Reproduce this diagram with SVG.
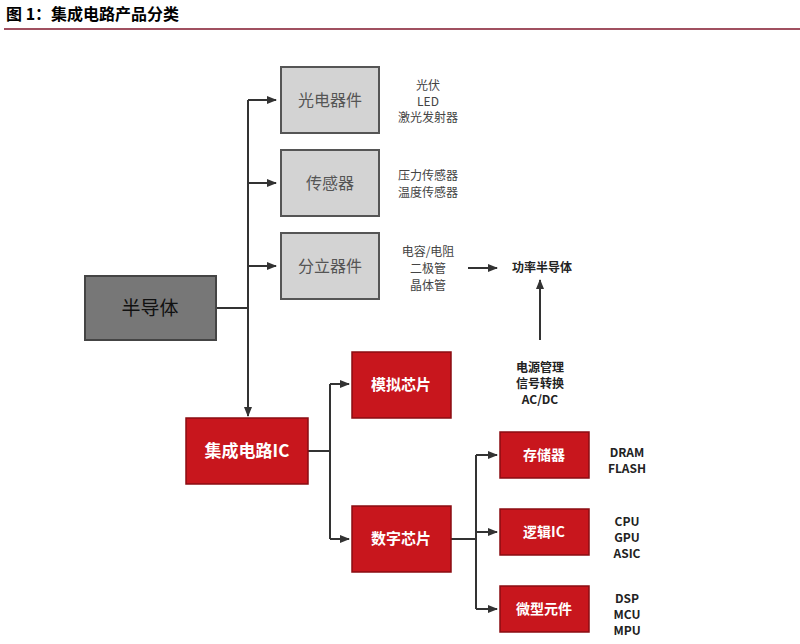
<svg xmlns="http://www.w3.org/2000/svg" width="800" height="644" viewBox="0 0 800 644">
<style>
.g{fill:#d3d3d3;stroke:#555;stroke-width:2}
.r{fill:#c8161d;stroke:#8a0d12;stroke-width:1.5}
.c{stroke:#333;stroke-width:2;fill:none}
.t{font-family:"Noto Sans CJK SC",sans-serif;text-anchor:middle}
.gt{font-size:16px;fill:#555}
.wt{fill:#fff;font-weight:bold}
.s{font-size:12px;fill:#444}
.b{font-size:12px;font-weight:bold;fill:#222}
</style>
<defs><marker id="a" markerWidth="10" markerHeight="8" refX="9" refY="4" orient="auto" markerUnits="userSpaceOnUse"><path d="M0,0L10,4L0,8z" fill="#333"/></marker></defs>
<rect width="800" height="644" fill="#fff"/>
<text x="6" y="20" font-family="Noto Sans CJK SC,sans-serif" font-size="16" font-weight="bold">图 1：集成电路产品分类</text>
<line x1="4" y1="29" x2="800" y2="29" stroke="#a05060" stroke-width="2"/>
<g id="connectors">
<path class="c" d="M216,308H248M248,100V410"/>
<path class="c" d="M248,100H276" marker-end="url(#a)"/>
<path class="c" d="M248,183H276" marker-end="url(#a)"/>
<path class="c" d="M248,266H276" marker-end="url(#a)"/>
<path class="c" d="M248,400V416" marker-end="url(#a)"/>
<path class="c" d="M308,451H330M330,384V539"/>
<path class="c" d="M330,384H349" marker-end="url(#a)"/>
<path class="c" d="M330,539H349" marker-end="url(#a)"/>
<path class="c" d="M451,539H476M476,455V609"/>
<path class="c" d="M476,455H497" marker-end="url(#a)"/>
<path class="c" d="M476,532H497" marker-end="url(#a)"/>
<path class="c" d="M476,609H497" marker-end="url(#a)"/>
<path class="c" d="M468,268H497" marker-end="url(#a)"/>
<path class="c" d="M540,340V280" marker-end="url(#a)"/>
</g>
<g id="n1"><rect class="g" x="281" y="67" width="98" height="66"/><text class="t gt" x="330" y="106">光电器件</text></g>
<g id="n2"><rect class="g" x="281" y="150" width="98" height="66"/><text class="t gt" x="330" y="189">传感器</text></g>
<g id="n3"><rect class="g" x="281" y="233" width="98" height="66"/><text class="t gt" x="330" y="272">分立器件</text></g>
<g id="n0"><rect x="85" y="276" width="131" height="64" fill="#777" stroke="#444" stroke-width="2"/><text class="t" x="150" y="315" font-size="19" fill="#111">半导体</text></g>
<g id="l1"><text class="t s" x="428" y="90">光伏</text><text class="t s" x="428" y="106">LED</text><text class="t s" x="428" y="122">激光发射器</text></g>
<g id="l2"><text class="t s" x="428" y="180">压力传感器</text><text class="t s" x="428" y="197">温度传感器</text></g>
<g id="l3"><text class="t s" x="428" y="256">电容/电阻</text><text class="t s" x="428" y="273">二极管</text><text class="t s" x="428" y="290">晶体管</text></g>
<g id="p"><text class="t b" x="542" y="272">功率半导体</text></g>
<g id="pm"><text class="t b" x="540" y="372">电源管理</text><text class="t b" x="540" y="388">信号转换</text><text class="t b" x="540" y="404">AC/DC</text></g>
<g id="ic"><rect class="r" x="186" y="418" width="122" height="66"/><text class="t wt" x="247" y="457" font-size="17">集成电路IC</text></g>
<g id="an"><rect class="r" x="352" y="352" width="99" height="66"/><text class="t wt" x="401" y="390" font-size="15">模拟芯片</text></g>
<g id="dg"><rect class="r" x="352" y="506" width="99" height="66"/><text class="t wt" x="401" y="544" font-size="15">数字芯片</text></g>
<g id="m"><rect class="r" x="500" y="432" width="89" height="46"/><text class="t wt" x="544" y="460" font-size="14">存储器</text></g>
<g id="lg"><rect class="r" x="500" y="509" width="89" height="46"/><text class="t wt" x="544" y="537" font-size="14">逻辑IC</text></g>
<g id="mc"><rect class="r" x="500" y="586" width="89" height="46"/><text class="t wt" x="544" y="614" font-size="14">微型元件</text></g>
<g id="r1"><text class="t b" x="627" y="457">DRAM</text><text class="t b" x="627" y="473">FLASH</text></g>
<g id="r2"><text class="t b" x="627" y="526">CPU</text><text class="t b" x="627" y="542">GPU</text><text class="t b" x="627" y="558">ASIC</text></g>
<g id="r3"><text class="t b" x="627" y="603">DSP</text><text class="t b" x="627" y="619">MCU</text><text class="t b" x="627" y="635">MPU</text></g>
</svg>
